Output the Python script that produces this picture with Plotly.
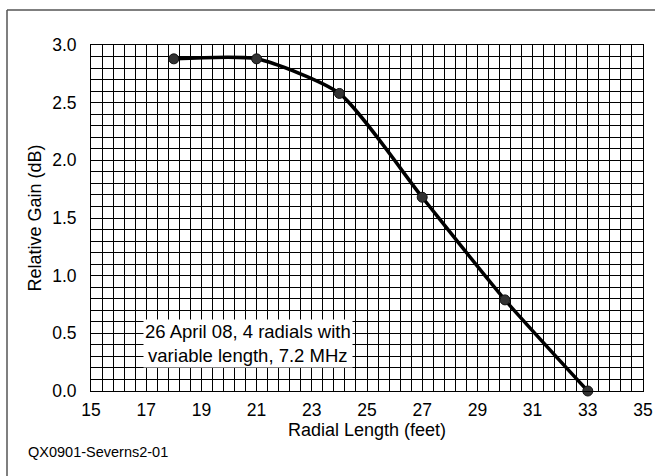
import plotly.graph_objects as go

radial_length = [18, 21, 24, 27, 30, 33]
relative_gain = [2.88, 2.88, 2.58, 1.68, 0.79, 0.0]

x_ticks = [15, 17, 19, 21, 23, 25, 27, 29, 31, 33, 35]
y_ticks = [0.0, 0.5, 1.0, 1.5, 2.0, 2.5, 3.0]

FONT = "Liberation Sans, Arial, sans-serif"
W, H = 655, 476
L, R, T, B = 91, 12, 45, 85
PW, PH = W - L - R, H - T - B


def px_x(p):
    return (p - L) / PW


def px_y(p):
    return (H - B - p) / PH


fig = go.Figure()
fig.add_trace(go.Scatter(
    x=radial_length, y=relative_gain, mode="lines+markers",
    line=dict(color="black", width=3.5, shape="spline", smoothing=0.6),
    marker=dict(size=10, color="#333333", line=dict(color="#111111", width=1)),
    showlegend=False, cliponaxis=False,
))

axis_common = dict(
    showline=True, linecolor="black", linewidth=1, mirror=True,
    showgrid=True, gridcolor="black", gridwidth=1,
    zeroline=False, ticks="", automargin=False,
    tickfont=dict(family=FONT, size=17.5, color="black"),
)

fig.update_xaxes(
    range=[15, 35], tickmode="array", tickvals=x_ticks,
    ticktext=[str(v) for v in x_ticks],
    minor=dict(tick0=15, dtick=0.4, showgrid=True, gridcolor="black", gridwidth=1),
    title=dict(text="Radial Length (feet)", font=dict(family=FONT, size=18, color="black"), standoff=4),
    ticklabelstandoff=3,
    **axis_common,
)
fig.update_yaxes(
    range=[0, 3], tickmode="array", tickvals=y_ticks,
    ticktext=[f"{v:.1f}" for v in y_ticks],
    minor=dict(tick0=0, dtick=0.1, showgrid=True, gridcolor="black", gridwidth=1),
    title=dict(text="Relative Gain (dB)", font=dict(family=FONT, size=18, color="black"), standoff=5),
    ticklabelstandoff=10,
    **axis_common,
)

fig.add_annotation(
    x=20.68, y=0.415, xref="x", yref="y",
    text="26 April 08, 4 radials with<br>variable length, 7.2 MHz",
    showarrow=False, bgcolor="white", borderpad=1,
    font=dict(family=FONT, size=18.5, color="black"),
)
fig.add_annotation(
    x=px_x(26), y=px_y(452), xref="paper", yref="paper", text="QX0901-Severns2-01",
    showarrow=False, xanchor="left", yanchor="middle",
    font=dict(family=FONT, size=14.5, color="black"),
)

# outer frame (left and top edges visible)
fig.add_shape(type="line", xref="paper", yref="paper",
              x0=px_x(7), x1=px_x(7), y0=px_y(490), y1=px_y(10),
              line=dict(color="#555555", width=1.5))
fig.add_shape(type="line", xref="paper", yref="paper",
              x0=px_x(7), x1=px_x(670), y0=px_y(10), y1=px_y(10),
              line=dict(color="#555555", width=1.5))

fig.update_layout(
    width=W, height=H,
    margin=dict(l=L, r=R, t=T, b=B, autoexpand=False),
    paper_bgcolor="white", plot_bgcolor="white",
    font=dict(family=FONT, color="black"),
)

fig.write_html("out.html", config={"displayModeBar": False},
               post_script="document.body.style.margin='0';")
